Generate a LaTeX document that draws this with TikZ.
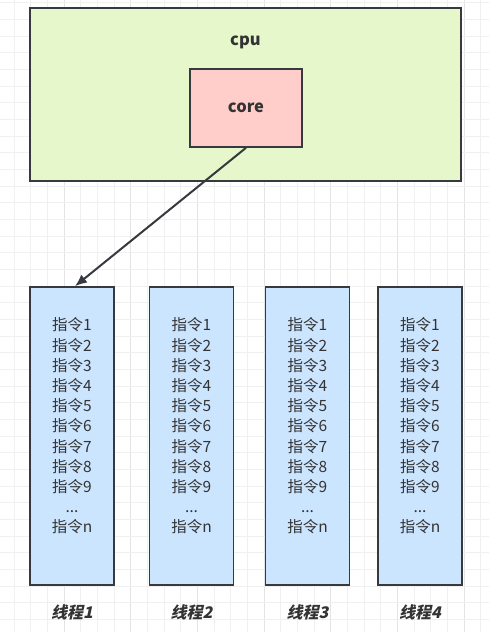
\documentclass[tikz,border=0pt]{standalone}
\usepackage{fontspec}
\setmainfont{Noto Sans CJK SC}
\newfontfamily\cjkslant{Noto Sans CJK SC}[FakeSlant=0.22]
\usetikzlibrary{arrows.meta}
\definecolor{gridc}{HTML}{F0F0F0}
\definecolor{gridd}{HTML}{E4E4E4}
\definecolor{cpufill}{HTML}{E6F7CB}
\definecolor{corefill}{HTML}{FFCDCA}
\definecolor{thrfill}{HTML}{CCE5FF}
\definecolor{edge}{HTML}{36393D}
\definecolor{txt}{HTML}{333333}
\tikzset{
  gridline/.style={draw=gridc, line width=0.8pt},
  gridmajor/.style={draw=gridd, line width=0.8pt},
  boxbase/.style={draw=edge, line width=1.6pt, rectangle, inner sep=0pt},
  cpubox/.style={boxbase, fill=cpufill, minimum width=431, minimum height=173},
  corebox/.style={boxbase, fill=corefill, minimum width=112, minimum height=78},
  thrbox/.style={boxbase, fill=thrfill, minimum width=84, minimum height=298},
  lbl/.style={text=txt, font=\fontsize{16.5}{19}\selectfont\bfseries},
  instr/.style={text=txt, align=center, font=\fontsize{15.5}{20.2}\selectfont, inner sep=0pt},
  thrlbl/.style={text=txt, font=\fontsize{16}{19}\cjkslant\bfseries},
  arr/.style={draw=edge, line width=2pt, -{Latex[length=12pt,width=10pt]}}
}
\newcommand{\instrlist}{指令1\\指令2\\指令3\\指令4\\指令5\\指令6\\指令7\\指令8\\指令9\\...\\指令n}
\begin{document}
\begin{tikzpicture}[x=1pt,y=-1pt]
\useasboundingbox (0,0) rectangle (489,632);
\fill[white] (0,0) rectangle (489,632);
\foreach \i in {0,...,28} {
  \pgfmathtruncatemacro{\m}{mod(\i,4)}
  \ifnum\m=3 \draw[gridmajor] ({14+16.67*\i},0) -- ({14+16.67*\i},632);
  \else \draw[gridline] ({14+16.67*\i},0) -- ({14+16.67*\i},632); \fi
}
\foreach \j in {0,...,37} {
  \draw[gridline] (0,{2.7+16.67*\j}) -- (489,{2.7+16.67*\j});
}
\node[cpubox] (cpu) at (245.5,94.5) {};
\node[lbl] (cpulbl) at (245.5,42) {cpu};
\node[corebox] (core) at (246,108) {};
\node[lbl] (corelbl) at (core.center) {core};

\foreach \n/\x in {1/72,2/191.5,3/307.5,4/420} {
  \node[thrbox] (t\n) at (\x,436) {};
  \node[instr] (t\n txt) at (\x,426) {\instrlist};
  \node[thrlbl] (l\n) at (\x,612) {线程\n};
}
\draw[arr] (core.south) -- ([xshift=3pt]t1.north);
\end{tikzpicture}
\end{document}
